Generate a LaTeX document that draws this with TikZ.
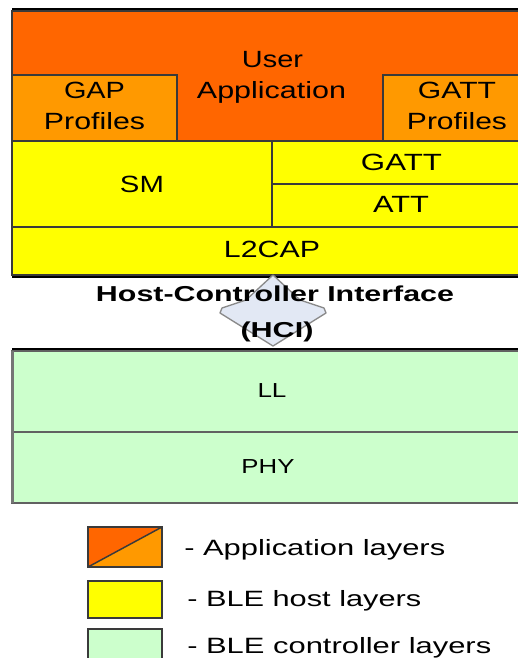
\documentclass[tikz,border=0pt]{standalone}
\usepackage{fontspec}
\setmainfont{Liberation Sans}
\usepackage{graphicx}

% one drawing unit = one pixel of the final picture
\newlength\pxu
\setlength\pxu{0.75pt}
% set a text at its natural height, stretched to a given width (in px)
\newcommand\fitw[2]{\resizebox{#1\pxu}{\height}{#2}}

\definecolor{appdark}{HTML}{FF6600}
\definecolor{applight}{HTML}{FF9900}
\definecolor{hostyel}{HTML}{FFFF00}
\definecolor{ctrlgrn}{HTML}{CCFFCC}
\definecolor{hcifill}{HTML}{E2E8F4}
\definecolor{hciline}{HTML}{8A8A8A}
\definecolor{edge}{HTML}{3A3A3A}
\definecolor{shade}{HTML}{B8B8B8}

\begin{document}
\begin{tikzpicture}[x=\pxu, y=-\pxu,
  layer/.style={draw=edge, line width=1.1pt},
  lbl/.style={anchor=base, inner sep=0pt, font=\fontsize{17.6}{20}\selectfont},
  sublbl/.style={anchor=base, inner sep=0pt, font=\fontsize{15.2}{18}\selectfont},
  hcilbl/.style={anchor=base, inner sep=0pt, font=\bfseries\fontsize{16.2}{19}\selectfont},
  keylbl/.style={anchor=base west, inner sep=0pt, font=\fontsize{16.6}{19}\selectfont},
  keybox/.style={draw=edge, line width=1.1pt}]
\useasboundingbox (0,0) rectangle (518,658);
\clip (0,0) rectangle (518,658);

% ---- application layers ----
\draw[shade, line width=1.5pt] (12,9) -- (530,9);
\path[layer, fill=appdark] (12,11) rectangle (530,141);
\path[layer, fill=applight] (12,75) rectangle (177,141);
\path[layer, fill=applight] (383,75) rectangle (530,141);

% ---- host layers ----
\path[layer, fill=hostyel] (12,141) rectangle (272,227);
\path[layer, fill=hostyel] (272,141) rectangle (530,184);
\path[layer, fill=hostyel] (272,184) rectangle (530,227);
\path[layer, fill=hostyel] (12,227) rectangle (530,275);
\draw[shade, line width=1pt] (12,277) -- (530,277);

% ---- controller layers ----
\draw[shade, line width=1.5pt] (12,349) -- (530,349);
\path[layer, draw=edge!80, fill=ctrlgrn] (12,351) rectangle (530,432);
\path[layer, draw=edge!80, fill=ctrlgrn] (12,432) rectangle (530,503);
\draw[edge!70, line width=2.2pt] (12.5,351) -- (12.5,503);

% ---- host/controller interface arrow ----
\path[draw=hciline, fill=hcifill, line width=1pt, line join=round]
  (273,275) -- (300,300) -- (324,308) -- (326,313) -- (273,346)
  -- (220,313) -- (222,308) -- (246,300) -- cycle;

% ---- labels ----
\node[lbl] (user) at (272.5,67.5) {\fitw{61}{User}};
\node[lbl] (app) at (271.5,98.5) {\fitw{149}{Application}};
\node[lbl] (gap) at (94.5,98.5) {\fitw{61}{GAP}};
\node[lbl] (gapprof) at (94.5,129.5) {\fitw{101}{Profiles}};
\node[lbl] (gattp) at (457,98.5) {\fitw{78}{GATT}};
\node[lbl] (gattprof) at (457,129.5) {\fitw{100}{Profiles}};
\node[lbl] (gatt) at (401.5,170.5) {\fitw{81}{GATT}};
\node[lbl] (sm) at (142,192.5) {\fitw{44}{SM}};
\node[lbl] (att) at (401,212.5) {\fitw{56}{ATT}};
\node[lbl] (l2cap) at (272,257.5) {\fitw{96}{L2CAP}};
\node[sublbl] (ll) at (272,397.5) {\fitw{29}{LL}};
\node[sublbl] (phy) at (268,473.5) {\fitw{53}{PHY}};
\node[hcilbl] (hci) at (275,301.5) {\fitw{358}{Host-Controller Interface}};
\node[hcilbl] (hciabbr) at (277,337.5) {\fitw{73}{(HCI)}};

% ---- legend ----
\fill[appdark] (88,567) -- (88,527) -- (162,527) -- cycle;
\fill[applight] (88,567) -- (162,527) -- (162,567) -- cycle;
\draw[keybox] (88,527) rectangle (162,567);
\draw[edge, line width=1.1pt] (88,567) -- (162,527);
\path[keybox, fill=hostyel] (88,581) rectangle (162,618);
\path[keybox, fill=ctrlgrn] (88,629) rectangle (162,667);

\node[keylbl] (keyapp) at (184,555) {\fitw{261}{- Application layers}};
\node[keylbl] (keyhost) at (187,606.5) {\fitw{234}{- BLE host layers}};
\node[keylbl] (keyctrl) at (187,653) {\fitw{304}{- BLE controller layers}};
\end{tikzpicture}
\end{document}
